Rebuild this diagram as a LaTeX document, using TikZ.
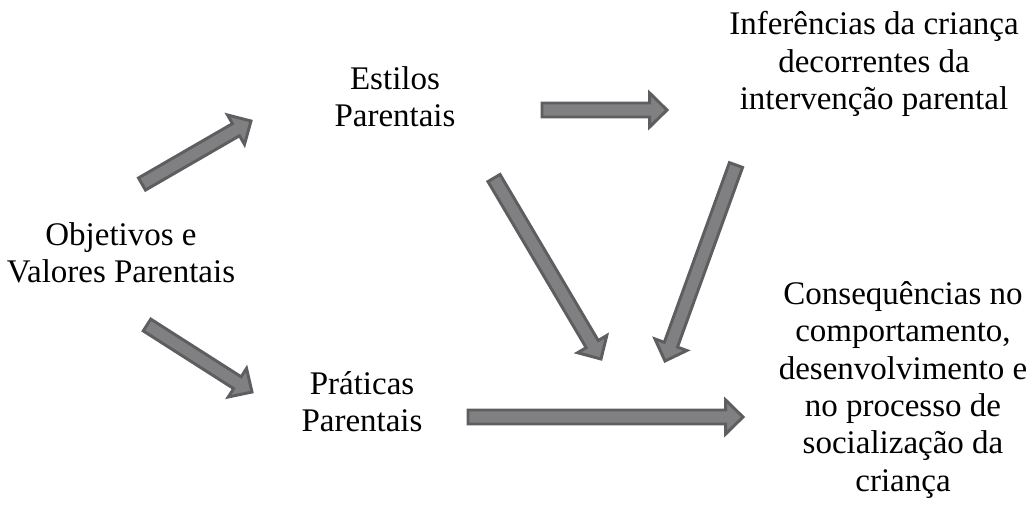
\documentclass[tikz,border=0pt]{standalone}
\usepackage{fontspec}
\setmainfont{Liberation Serif}
\usetikzlibrary{calc}
\definecolor{arrfill}{HTML}{808083}
\definecolor{arrline}{HTML}{5E5E60}
\newcommand{\bw}{5.25pt}   % shaft half width
\newcommand{\bh}{12.75pt}  % head half width
\newcommand{\bl}{13pt}     % head length
\newcommand{\blockarrow}[2]{%
  \coordinate (hc) at ($(#2)!\bl!(#1)$);
  \draw[blockarr] ($(#1)!\bw!90:(#2)$) -- ($(hc)!\bw!90:(#2)$) -- ($(hc)!\bh!90:(#2)$)
    -- (#2) -- ($(hc)!\bh!-90:(#2)$) -- ($(hc)!\bw!-90:(#2)$) -- ($(#1)!\bw!-90:(#2)$) -- cycle;}
\begin{document}
\begin{tikzpicture}[x=0.75pt,y=-0.75pt,
  lbl/.style={align=center,font=\fontsize{24.75pt}{28pt}\selectfont,inner sep=0pt},
  blockarr/.style={fill=arrfill,draw=arrline,line width=2.2pt,line join=miter}]
\useasboundingbox[fill=white] (0,0) rectangle (1032,515);
\node[lbl] (obj) at (121,253) {Objetivos e\\Valores Parentais};
\node[lbl] (est) at (395,97) {Estilos\\Parentais};
\node[lbl] (inf) at (874,64) {Inferências da criança\\decorrentes da\\intervenção parental};
\node[lbl] (pra) at (362,402) {Práticas\\Parentais};
\node[lbl] (con) at (903,390) {Consequências no\\comportamento,\\desenvolvimento e\\no processo de\\socialização da\\criança};
% arrow end points
\coordinate (a1s) at (142,184); \coordinate (a1e) at (251,121);
\coordinate (a2s) at (147,325); \coordinate (a2e) at (252,392);
\coordinate (a3s) at (542,110); \coordinate (a3e) at (667,110);
\coordinate (a4s) at (494,178); \coordinate (a4e) at (601,359);
\coordinate (a5s) at (736,165); \coordinate (a5e) at (665,361);
\coordinate (a6s) at (468,417); \coordinate (a6e) at (743,417);
\blockarrow{a1s}{a1e}
\blockarrow{a2s}{a2e}
\blockarrow{a3s}{a3e}
\blockarrow{a4s}{a4e}
\blockarrow{a5s}{a5e}
\blockarrow{a6s}{a6e}
\end{tikzpicture}
\end{document}
